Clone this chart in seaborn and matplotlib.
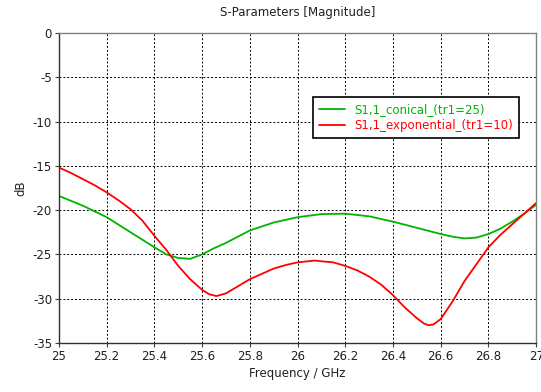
import pandas as pd
import matplotlib
matplotlib.use("Agg")
import matplotlib.pyplot as plt
import seaborn as sns

freq_conical = [25.0, 25.1, 25.2, 25.3, 25.4, 25.45, 25.5, 25.55, 25.6, 25.65, 25.7, 25.8, 25.9,
                26.0, 26.1, 26.2, 26.3, 26.4, 26.5, 26.6, 26.65, 26.7, 26.75, 26.8, 26.85,
                26.9, 26.95, 27.0]
s11_conical = [-18.4, -19.5, -20.8, -22.5, -24.2, -25.0, -25.4, -25.5, -25.0, -24.3, -23.7, -22.3, -21.4,
               -20.8, -20.45, -20.4, -20.7, -21.3, -22.0, -22.7, -23.0, -23.2, -23.1, -22.7, -22.1,
               -21.3, -20.4, -19.4]

freq_expo = [25.0, 25.05, 25.1, 25.15, 25.2, 25.25, 25.3, 25.35, 25.4, 25.45, 25.5, 25.55,
             25.6, 25.63, 25.66, 25.7, 25.75, 25.8, 25.85, 25.9, 25.95, 26.0, 26.07, 26.15,
             26.2, 26.25, 26.3, 26.35, 26.4, 26.45, 26.5, 26.53, 26.55, 26.57, 26.6, 26.65,
             26.7, 26.75, 26.8, 26.85, 26.9, 26.95, 27.0]
s11_expo = [-15.2, -15.8, -16.5, -17.2, -18.0, -18.9, -19.9, -21.2, -22.9, -24.5, -26.3, -27.8,
            -29.0, -29.5, -29.7, -29.4, -28.6, -27.8, -27.2, -26.6, -26.2, -25.9, -25.7, -25.9,
            -26.3, -26.8, -27.5, -28.4, -29.6, -31.0, -32.2, -32.8, -33.0, -32.9, -32.3, -30.3,
            -28.0, -26.1, -24.2, -22.8, -21.6, -20.4, -19.2]

labels = ["S1,1_conical_(tr1=25)", "S1,1_exponential_(tr1=10)"]
colors = ["#00b400", "#ff0000"]

df = pd.concat([
    pd.DataFrame({"freq": freq_conical, "db": s11_conical, "curve": labels[0]}),
    pd.DataFrame({"freq": freq_expo, "db": s11_expo, "curve": labels[1]}),
])

sns.set_style("white")
plt.rcParams['font.family'] = ['DejaVu Sans']
plt.rcParams['axes.unicode_minus'] = False

fig = plt.figure(figsize=(5.41, 3.92), dpi=100)
ax = fig.add_axes([0.109, 0.125, 0.882, 0.791])
sns.lineplot(data=df, x="freq", y="db", hue="curve", palette=colors,
             linewidth=1.3, sort=False, ax=ax)

ax.set_xlim(25, 27)
ax.set_ylim(-35, 0)
ax.set_xticks([25 + 0.2 * i for i in range(11)])
ax.set_xticklabels(["25", "25.2", "25.4", "25.6", "25.8", "26", "26.2", "26.4", "26.6", "26.8", "27"])
ax.set_yticks(range(-35, 1, 5))
ax.grid(True, color="black", linestyle=(0, (2, 2)), linewidth=0.7)
ax.tick_params(axis="both", direction="out", length=3, labelsize=8.5, color="#404040",
               labelcolor="#202020", left=True, bottom=True, pad=2)
for s in ax.spines.values():
    s.set_color("#808080")
    s.set_linewidth(1)
ax.spines["left"].set_color("#303030")
ax.spines["bottom"].set_color("#303030")

ax.set_title("S-Parameters [Magnitude]", fontsize=8.5, color="#202020", pad=12)
ax.set_xlabel("Frequency / GHz", fontsize=8.5, color="#202020", labelpad=3)
ax.set_ylabel("dB", fontsize=8.5, color="#202020", labelpad=4)

leg = ax.legend(loc="upper left", bbox_to_anchor=(0.532, 0.794), fontsize=8.5,
                frameon=True, fancybox=False, borderaxespad=0, handlelength=2.2,
                labelspacing=0.3, borderpad=0.5)
leg.get_frame().set_edgecolor("black")
leg.get_frame().set_linewidth(1.2)
leg.get_frame().set_alpha(1)
for txt, c in zip(leg.get_texts(), colors):
    txt.set_color(c)

fig.savefig("out.png", dpi=100)
